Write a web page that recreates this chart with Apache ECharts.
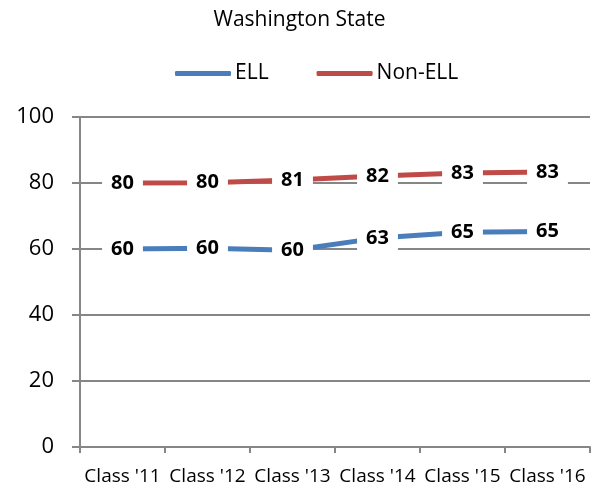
<!DOCTYPE html>
<html lang="en">
<head>
    <meta charset="UTF-8">
    <title>Washington State</title>
    <script src="https://cdn.jsdelivr.net/npm/echarts@6/dist/echarts.min.js"></script>
    <style>
        html, body { margin: 0; padding: 0; background: #fff; }
        #main { width: 599px; height: 490px; }
    </style>
</head>
<body>
<div id="main"></div>
<script type="text/javascript">
    var classes = ["Class '11", "Class '12", "Class '13", "Class '14", "Class '15", "Class '16"];
    var ellData = [60.0, 60.2, 59.6, 63.3, 65.1, 65.3];
    var nonEllData = [80.0, 80.1, 80.9, 82.1, 83.0, 83.3];
    var yTicks = [0, 20, 40, 60, 80, 100];

    var FONT = 'Open Sans';
    var GRID_GRAY = '#868686';

    var myChart = echarts.init(document.getElementById('main'));

    function lineSeries(name, data, color) {
        return {
            name: name,
            type: 'line',
            data: data,
            symbol: 'circle',
            symbolSize: 1,
            itemStyle: { color: color },
            lineStyle: { color: color, width: 5 },
            label: {
                show: true,
                position: 'inside',
                color: '#000',
                fontFamily: FONT,
                fontWeight: 'bold',
                fontSize: 20,
                backgroundColor: '#fff',
                padding: [3, 9, 1, 9],
                formatter: function (p) { return Math.round(p.value); }
            },
            emphasis: { disabled: true },
            animation: false
        };
    }

    var option = {
        backgroundColor: '#fff',
        title: {
            text: 'Washington State',
            left: 'center',
            top: 5,
            textStyle: { fontFamily: FONT, fontWeight: 'normal', fontSize: 21, color: '#000' }
        },
        legend: {
            top: 58,
            left: 170,
            itemWidth: 56,
            itemHeight: 5,
            itemGap: 48,
            icon: 'roundRect',
            textStyle: { fontFamily: FONT, fontSize: 21, color: '#000', padding: [0, 0, 0, -1] },
            data: ['ELL', 'Non-ELL']
        },
        grid: { left: 80, right: 9, top: 117, bottom: 43 },
        xAxis: {
            type: 'category',
            data: classes,
            boundaryGap: true,
            axisLine: { lineStyle: { color: GRID_GRAY, width: 2 } },
            axisTick: { show: true, length: 6, lineStyle: { color: GRID_GRAY, width: 2 } },
            axisLabel: { interval: 0, margin: 20, fontFamily: FONT, fontSize: 19, color: '#000' }
        },
        yAxis: {
            type: 'value',
            min: yTicks[0],
            max: yTicks[yTicks.length - 1],
            interval: 20,
            axisLine: { show: true, lineStyle: { color: GRID_GRAY, width: 2 } },
            axisTick: { show: true, length: 8, lineStyle: { color: GRID_GRAY, width: 2 } },
            axisLabel: { margin: 26, fontFamily: FONT, fontSize: 22, color: '#000' },
            splitLine: { lineStyle: { color: GRID_GRAY, width: 2 } }
        },
        series: [
            lineSeries('ELL', ellData, '#4a7ebb'),
            lineSeries('Non-ELL', nonEllData, '#be4b48')
        ]
    };

    myChart.setOption(option);
</script>
</body>
</html>
